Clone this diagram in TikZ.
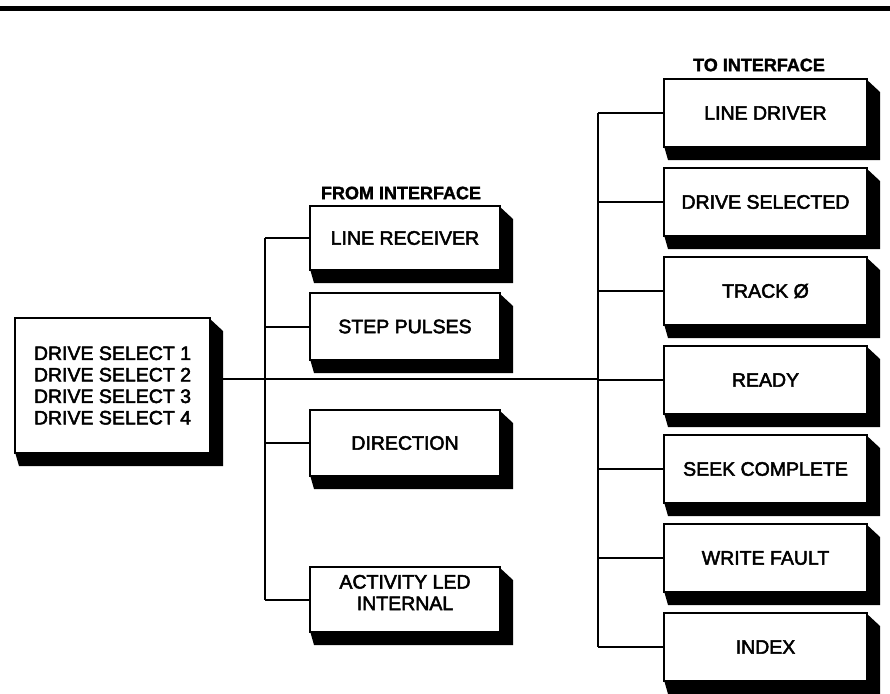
\documentclass[tikz,border=0pt]{standalone}
\usepackage{fontspec}
\setmainfont{Liberation Sans}
\newfontfamily\boxfont[FakeBold=2.5]{Liberation Sans}
\newfontfamily\headfont[FakeBold=1.5]{Liberation Sans Bold}
\begin{document}
\begin{tikzpicture}[x=1pt,y=-1pt,
  box/.style={draw=black, line width=2.8pt, fill=white, inner sep=0pt, outer sep=0pt,
    align=center, font=\boxfont\fontsize{19.5}{21.5}\selectfont},
  rbox/.style={box, minimum width=203pt, minimum height=68pt},
  mbox/.style={box, minimum width=190pt},
  head/.style={font=\headfont\fontsize{18}{21}\selectfont, inner sep=0pt},
  btext/.style={inner sep=0pt, align=center, font=\boxfont\fontsize{19.5}{21.5}\selectfont},
  wire/.style={line width=2pt}
]
\useasboundingbox (0,0) rectangle (890,693);
\fill (0,6) rectangle (890,11.5);

% left box
\node[box, minimum width=195pt, minimum height=135pt, align=left] (ds) at (112.5,385.5)
  {DRIVE SELECT 1\\DRIVE SELECT 2\\DRIVE SELECT 3\\DRIVE SELECT 4};

% middle column
\node[head] (fi) at (401,193) {FROM INTERFACE};
\node[mbox, minimum height=64pt] (lr) at (405,238) {LINE RECEIVER};
\node[mbox, minimum height=67pt] (sp) at (405,326.5) {STEP PULSES};
\node[mbox, minimum height=66pt] (dir) at (405,443) {DIRECTION};
\node[mbox, minimum height=65pt] (act) at (405,599.5) {};
\node[btext] (acttxt) at (405,592.5) {ACTIVITY LED\\INTERNAL};

% right column
\node[head] (ti) at (759,65) {TO INTERFACE};
\node[rbox] (ld) at (765.5,113) {LINE DRIVER};
\node[rbox] (dsel) at (765.5,202) {DRIVE SELECTED};
\node[rbox] (tr) at (765.5,291) {TRACK Ø};
\node[rbox] (rdy) at (765.5,380) {READY};
\node[rbox] (sk) at (765.5,469) {SEEK COMPLETE};
\node[rbox] (wf) at (765.5,558) {WRITE FAULT};
\node[rbox] (ix) at (765.5,647) {INDEX};

% 3-D shadows
\foreach \n in {ds,lr,sp,dir,act,ld,dsel,tr,rdy,sk,wf,ix}{
  \fill[black] ([xshift=-1pt]\n.north east) -- ([xshift=13pt,yshift=-13pt]\n.north east)
    -- ([xshift=13pt,yshift=-13pt]\n.south east) -- ([xshift=4pt,yshift=-13pt]\n.south west)
    -- ([yshift=1pt]\n.south west) -- ([xshift=-1pt,yshift=1pt]\n.south east) -- cycle;
}

% buses
\coordinate (mbus) at (265,0);
\coordinate (rbus) at (598,0);
\coordinate (dsline) at (0,379);

\draw[wire] (lr.west -| mbus) -- (act.west -| mbus);
\draw[wire] (ld.west -| rbus) -- (ix.west -| rbus);
\draw[wire] (ds.east |- dsline) -- (dsline -| rbus);
\foreach \n in {lr,sp,dir,act}{
  \draw[wire] (\n.west -| mbus) -- (\n.west);
}
\foreach \n in {ld,dsel,tr,rdy,sk,wf,ix}{
  \draw[wire] (\n.west -| rbus) -- (\n.west);
}
\end{tikzpicture}
\end{document}
